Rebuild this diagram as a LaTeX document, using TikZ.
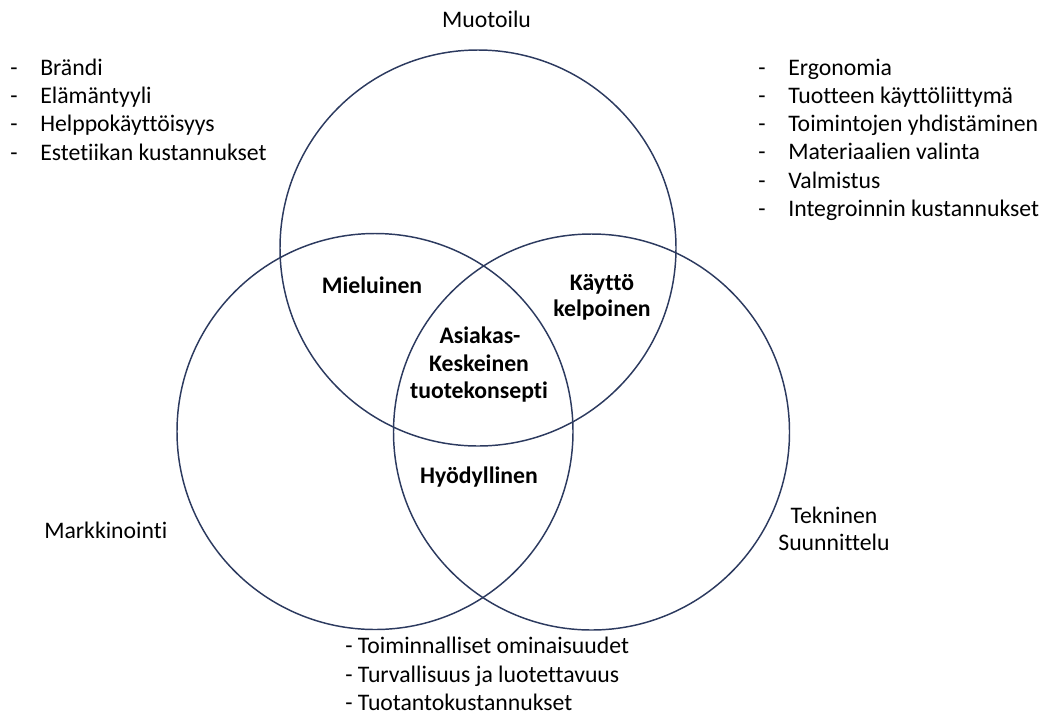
\documentclass[tikz,border=0pt]{standalone}
\usepackage{fontspec}
\setmainfont{Carlito}[Ligatures=NoCommon]
\definecolor{ringblue}{RGB}{44,58,95}
\begin{document}
\begin{tikzpicture}[x=0.75pt,y=-0.75pt,
  txt/.style={inner sep=0pt, text=black, font=\fontsize{17.8}{21}\selectfont},
  lbl/.style={txt, anchor=base},
  item/.style={txt, anchor=base west},
  key/.style={inner sep=0pt, text=black, anchor=base, font=\fontsize{17.8}{21}\selectfont\bfseries},
  ring/.style={circle, draw=ringblue, line width=1.1pt, minimum size=297pt, inner sep=0pt}]
\useasboundingbox (0,0) rectangle (1045,715);

% the three overlapping circles
\node[ring] (design) at (478,248) {};
\node[ring] (market) at (375,431.5) {};
\node[ring] (tech)   at (591.5,432) {};

% circle titles
\node[lbl]  (tDesign) at (486.5,27.3) {Muotoilu};
\node[item] (tMarket) at (44,538.3) {Markkinointi};
\node[lbl]  (tTech1)  at (834,523.3) {Tekninen};
\node[lbl]  (tTech2)  at (834,550) {Suunnittelu};

% overlap labels
\node[key] (kMiel)  at (372,293.3) {Mieluinen};
\node[key] (kKay1)  at (602,290) {Käyttö};
\node[key] (kKay2)  at (602,316.5) {kelpoinen};
\node[key] (kCore1) at (480,343.3) {Asiakas-};
\node[key] (kCore2) at (479,371.5) {Keskeinen};
\node[key] (kCore3) at (479,398.5) {tuotekonsepti};
\node[key] (kHyod)  at (479,483.3) {Hyödyllinen};

% design concerns (left list)
\foreach \t [count=\i] in {Brändi, Elämäntyyli, Helppokäyttöisyys, Estetiikan kustannukset} {
  \node[item] (ld\i) at (10,{75+28.4*(\i-1)}) {-};
  \node[item] (lt\i) at (40,{75+28.4*(\i-1)}) {\t};
}

% engineering concerns (right list)
\foreach \t [count=\i] in {Ergonomia, Tuotteen käyttöliittymä, Toimintojen yhdistäminen, Materiaalien valinta, Valmistus, Integroinnin kustannukset} {
  \node[item] (rd\i) at (758,{75+28.3*(\i-1)}) {-};
  \node[item] (rt\i) at (788,{75+28.3*(\i-1)}) {\t};
}

% function concerns (bottom list)
\node[item] (b1) at (345,653) {- Toiminnalliset ominaisuudet};
\node[item] (b2) at (345,682) {- Turvallisuus ja luotettavuus};
\node[item] (b3) at (345,710.5) {- Tuotantokustannukset};
\end{tikzpicture}
\end{document}
